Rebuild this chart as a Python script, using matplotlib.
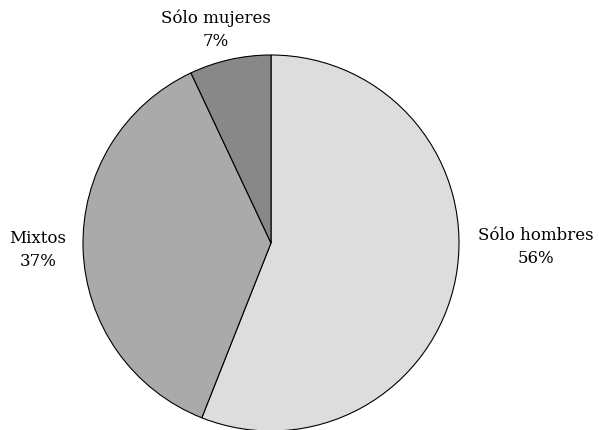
import matplotlib
matplotlib.use("Agg")
import matplotlib.pyplot as plt

labels = ["Sólo hombres", "Mixtos", "Sólo mujeres"]
shares = [56, 37, 7]
colors = ["#dddddd", "#aaaaaa", "#888888"]

fig = plt.figure(figsize=(5.99, 4.30), dpi=100)
ax = fig.add_axes([0, 0, 1, 1])

ax.pie(shares, colors=colors, startangle=90, counterclock=False,
       center=(271, 187), radius=188, frame=True,
       wedgeprops=dict(edgecolor="black", linewidth=0.8))
ax.set_xlim(0, 599)
ax.set_ylim(0, 430)
ax.set_aspect("equal")
ax.axis("off")

font = dict(family="DejaVu Serif", fontsize=12, ha="center", va="center", linespacing=1.45)
label_pos = [(536, 183), (38, 180), (216, 400)]
for lab, s, (x, y) in zip(labels, shares, label_pos):
    ax.text(x, y, f"{lab}\n{s}%", **font)

fig.savefig("out.png", dpi=100)
